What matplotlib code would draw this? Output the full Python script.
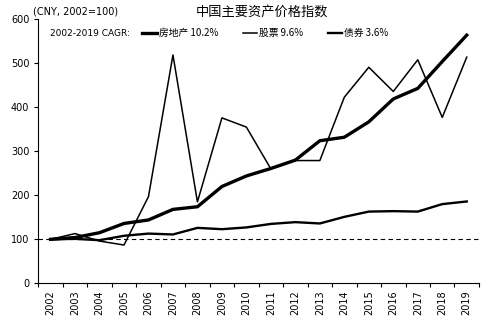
import matplotlib
matplotlib.use("Agg")
import matplotlib.pyplot as plt
import numpy as np

plt.rcParams['font.family'] = ['DejaVu Sans', 'Noto Sans CJK SC']

years = [str(y) for y in range(2002, 2020)]
real_estate = [100, 104, 115, 136, 144, 168, 174, 220, 244, 261, 280, 324, 332, 367, 419, 443, 504, 564]
stocks = [100, 113, 96, 87, 197, 519, 185, 376, 355, 260, 279, 279, 423, 491, 436, 508, 377, 514]
bonds = [100, 101, 98, 108, 113, 111, 126, 123, 127, 135, 139, 136, 151, 163, 164, 163, 180, 186]

fig = plt.figure(figsize=(4.88, 3.24), dpi=100)
ax = fig.add_axes([0.0785, 0.1256, 0.903, 0.8148])

x = np.arange(len(years))
ax.axhline(100, color='black', lw=0.8, ls=(0, (4, 3)), zorder=1)
l1, = ax.plot(x, real_estate, color='black', lw=2.4, label='房地产 10.2%', zorder=3)
l2, = ax.plot(x, stocks, color='black', lw=1.1, label='股票 9.6%', zorder=4)
l3, = ax.plot(x, bonds, color='black', lw=1.7, label='债券 3.6%', zorder=3)

ax.set_xlim(-0.5, len(years) - 0.5)
ax.set_ylim(0, 600)
ax.set_yticks(range(0, 601, 100))
ax.set_xticks(x)
ax.set_xticklabels(years, rotation=90, fontsize=7)
ax.tick_params(axis='x', length=0, pad=5)
ax.set_xticks(np.arange(-0.5, len(years), 1), minor=True)
ax.tick_params(axis='x', which='minor', length=3, width=0.8, direction='out')
ax.tick_params(axis='y', labelsize=7, length=3, width=0.8, direction='out')
for s in ['top', 'right']:
    ax.spines[s].set_visible(False)
for s in ['left', 'bottom']:
    ax.spines[s].set_linewidth(0.8)

fig.text(0.068, 0.963, '(CNY, 2002=100)', fontsize=7, ha='left', va='center')
fig.text(0.537, 0.963, '中国主要资产价格指数', fontsize=9.5, ha='center', va='center',
         family=['Noto Sans CJK SC', 'DejaVu Sans'])
fig.text(0.102, 0.898, '2002-2019 CAGR:', fontsize=6.5, ha='left', va='center')
leg = fig.legend(handles=[l1, l2, l3], loc='center left', bbox_to_anchor=(0.292, 0.898),
                 ncol=3, frameon=False, handlelength=1.5, handletextpad=0.2,
                 columnspacing=2.5, borderpad=0, borderaxespad=0,
                 prop={'family': ['Noto Sans CJK SC', 'DejaVu Sans'], 'size': 7})

fig.savefig('out.png', dpi=100)
